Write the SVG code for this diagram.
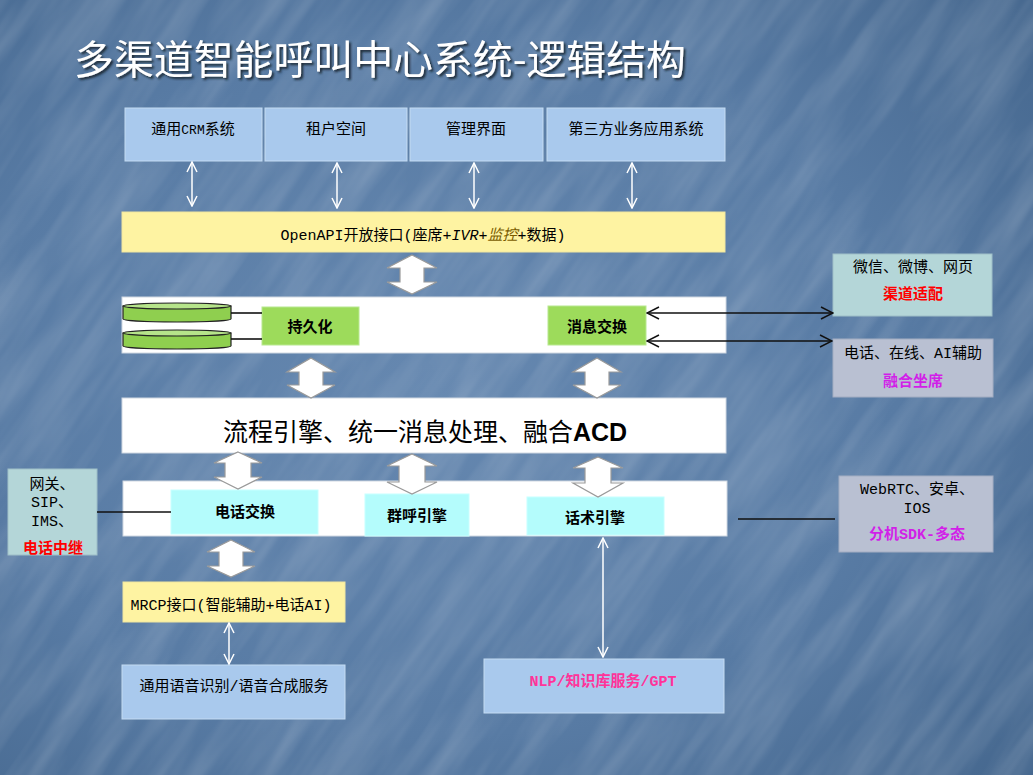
<svg xmlns="http://www.w3.org/2000/svg" width="1033" height="775" viewBox="0 0 1033 775">
<defs>
<radialGradient id="bg" cx="0.42" cy="0.5" r="0.75">
<stop offset="0" stop-color="#6688b0"/>
<stop offset="0.6" stop-color="#587ba4"/>
<stop offset="1" stop-color="#46688f"/>
</radialGradient>
<filter id="tex" x="0" y="0" width="100%" height="100%">
<feTurbulence type="fractalNoise" baseFrequency="0.006 0.045" numOctaves="3" seed="7" result="n"/>
<feColorMatrix in="n" type="matrix" values="0 0 0 0 1  0 0 0 0 1  0 0 0 0 1  0 0 0 0.28 -0.09"/>
</filter>
<filter id="shadow" x="-5%" y="-20%" width="110%" height="150%">
<feDropShadow dx="2" dy="2" stdDeviation="0.8" flood-color="#15202e" flood-opacity="0.9"/>
</filter>
<marker id="wa" viewBox="0 0 12 12" refX="11" refY="6" markerWidth="12" markerHeight="12" markerUnits="userSpaceOnUse" orient="auto-start-reverse">
<path d="M1,1 L11,6 L1,11" fill="none" stroke="#ffffff" stroke-width="1.5"/>
</marker>
<marker id="ba" viewBox="0 0 14 14" refX="13" refY="7" markerWidth="14" markerHeight="14" markerUnits="userSpaceOnUse" orient="auto-start-reverse">
<path d="M1,1 L13,7 L1,13" fill="none" stroke="#111111" stroke-width="1.5"/>
</marker>
<style>
text{font-family:"Liberation Sans","Noto Sans CJK SC",sans-serif;font-size:15px;fill:#000;text-anchor:middle}
.m{font-family:"Liberation Mono","Noto Sans CJK SC",monospace}
.b{font-weight:bold}
.blue{fill:#a9c9ed;stroke:#c4dbf2;stroke-width:1}
.yel{fill:#fef3a2;stroke:#f0e6a0;stroke-width:1}
.wht{fill:#ffffff;stroke:#d0d8e2;stroke-width:1}
.grn{fill:#9ddb5b;stroke:#b8e890;stroke-width:1}
.cyn{fill:#b4fcfc;stroke:#c8ffff;stroke-width:1}
.teal{fill:#b4d6d8;stroke:#9fbfc8;stroke-width:1}
.gry{fill:#b9c0d2;stroke:#a3adc2;stroke-width:1}
.blk{fill:#ffffff;stroke:#9a9a9a;stroke-width:1.2}
.wl{stroke:#ffffff;stroke-width:1.5;fill:none;marker-start:url(#wa);marker-end:url(#wa)}
.bl{stroke:#111111;stroke-width:1.6;fill:none}
.red{fill:#ff0000}
.mag{fill:#d11fe8}
.cyl{fill:#8fcf4f;stroke:#222;stroke-width:1.2}
.cylt{fill:#b6e48a;stroke:#222;stroke-width:1.2}
</style>
</defs>

<g id="background">
<rect x="0" y="0" width="1033" height="775" fill="url(#bg)"/>
<rect x="-400" y="-400" width="1833" height="1575" transform="rotate(-55 516 387)" filter="url(#tex)"/>
</g>

<g id="title">
<text x="380" y="74" filter="url(#shadow)" style="font-family:'Noto Sans CJK SC',sans-serif;font-size:40px;fill:#ffffff" textLength="612" lengthAdjust="spacingAndGlyphs">多渠道智能呼叫中心系统-逻辑结构</text>
</g>

<g id="crm">
<rect class="blue" x="125" y="108" width="137" height="53"/>
<text x="193" y="134">通用<tspan class="m" font-size="13">CRM</tspan>系统</text>
</g>
<g id="tenant">
<rect class="blue" x="265" y="108" width="142" height="53"/>
<text x="336" y="134">租户空间</text>
</g>
<g id="admin">
<rect class="blue" x="410" y="108" width="133" height="53"/>
<text x="476" y="134">管理界面</text>
</g>
<g id="thirdparty">
<rect class="blue" x="547" y="108" width="178" height="53"/>
<text x="636" y="134">第三方业务应用系统</text>
</g>

<g id="openapi">
<rect class="yel" x="122" y="212" width="603" height="40"/>
<text x="423" y="240"><tspan class="m">OpenAPI</tspan>开放接口<tspan class="m">(</tspan>座席<tspan class="m">+</tspan><tspan class="m" font-style="italic">IVR+</tspan><tspan font-style="italic" fill="#7a5c00">监控</tspan><tspan class="m">+</tspan>数据<tspan class="m">)</tspan></text>
</g>

<g id="layer1">
<rect class="wht" x="122" y="297" width="604" height="56"/>
<path class="cyl" d="M123,306 L123,319 A54,3 0 0 0 231,319 L231,306 Z"/>
<ellipse class="cylt" cx="177" cy="306" rx="54" ry="3"/>
<path class="cyl" d="M123,333 L123,346 A54,3 0 0 0 231,346 L231,333 Z"/>
<ellipse class="cylt" cx="177" cy="333" rx="54" ry="3"/>
</g>

<g id="persist">
<rect class="grn" x="262" y="307" width="97" height="38"/>
<text class="b" x="310" y="332">持久化</text>
</g>

<g id="msgswitch">
<rect class="grn" x="548" y="306" width="98" height="39"/>
<text class="b" x="597" y="332">消息交换</text>
</g>

<g id="channel">
<rect class="teal" x="833" y="254" width="159" height="62"/>
<text x="913" y="272">微信、微博、网页</text>
<text class="b red" x="913" y="299">渠道适配</text>
</g>

<g id="agent">
<rect class="gry" x="833" y="339" width="160" height="58"/>
<text x="913" y="358">电话、在线、<tspan class="m">AI</tspan>辅助</text>
<text class="b mag" x="913" y="386">融合坐席</text>
</g>

<g id="acd">
<rect class="wht" x="122" y="398" width="604" height="55"/>
<text x="425" y="441" style="font-family:'Noto Sans CJK SC',sans-serif;font-size:25px">流程引擎、统一消息处理、融合<tspan style="font-family:'Liberation Sans',sans-serif;font-weight:bold">ACD</tspan></text>
</g>

<g id="layer2">
<rect class="wht" x="123" y="481" width="604" height="55"/>
</g>

<g id="phoneswitch">
<rect class="cyn" x="171" y="490" width="147" height="44"/>
<text class="b" x="245" y="517">电话交换</text>
</g>
<g id="groupcall">
<rect class="cyn" x="365" y="494" width="104" height="42"/>
<text class="b" x="417" y="521">群呼引擎</text>
</g>
<g id="script">
<rect class="cyn" x="527" y="497" width="137" height="38"/>
<text class="b" x="595" y="523">话术引擎</text>
</g>

<g id="gateway">
<rect class="teal" x="8" y="469" width="89" height="86"/>
<text x="52" y="489">网关、</text>
<text x="52" y="507"><tspan class="m">SIP</tspan>、</text>
<text x="52" y="526"><tspan class="m">IMS</tspan>、</text>
<text class="b red" x="53" y="553">电话中继</text>
</g>

<g id="sdk">
<rect class="gry" x="839" y="476" width="154" height="76"/>
<text x="917" y="494"><tspan class="m">WebRTC</tspan>、安卓、</text>
<text class="m" x="917" y="513">IOS</text>
<text class="b mag" x="917" y="539">分机<tspan class="m">SDK-</tspan>多态</text>
</g>

<g id="mrcp">
<rect class="yel" x="123" y="582" width="222" height="40"/>
<text x="231" y="610"><tspan class="m">MRCP</tspan>接口<tspan class="m">(</tspan>智能辅助<tspan class="m">+</tspan>电话<tspan class="m">AI)</tspan></text>
</g>

<g id="asr">
<rect class="blue" x="122" y="665" width="223" height="54"/>
<text x="234" y="691">通用语音识别<tspan class="m">/</tspan>语音合成服务</text>
</g>

<g id="nlp">
<rect class="blue" x="484" y="659" width="240" height="54"/>
<text class="b" x="603" y="686" style="fill:#ff3399"><tspan class="m">NLP/</tspan>知识库服务<tspan class="m">/GPT</tspan></text>
</g>

<g id="connectors">
<line class="wl" x1="192" y1="162" x2="192" y2="206"/>
<line class="wl" x1="337" y1="163" x2="337" y2="208"/>
<line class="wl" x1="474" y1="163" x2="474" y2="208"/>
<line class="wl" x1="632" y1="163" x2="632" y2="208"/>
<line class="wl" x1="229" y1="623" x2="229" y2="664"/>
<line class="wl" x1="603" y1="538" x2="603" y2="657"/>
<line class="bl" x1="231" y1="313" x2="262" y2="313"/>
<line class="bl" x1="231" y1="339" x2="262" y2="339"/>
<line class="bl" x1="647" y1="313" x2="833" y2="313" marker-start="url(#ba)" marker-end="url(#ba)"/>
<line class="bl" x1="647" y1="341" x2="832" y2="341" marker-start="url(#ba)" marker-end="url(#ba)"/>
<line class="bl" x1="738" y1="519" x2="835" y2="519"/>
<line class="bl" x1="97" y1="512" x2="171" y2="512"/>
<path class="blk" d="M412,255 L437,268 L424,268 L424,282 L437,282 L412,294 L387,282 L400,282 L400,268 L387,268 Z"/>
<path class="blk" d="M311,358 L335,372 L323,372 L323,385 L335,385 L311,398 L287,385 L299,385 L299,372 L287,372 Z"/>
<path class="blk" d="M597,358 L621,372 L609,372 L609,385 L621,385 L597,398 L573,385 L585,385 L585,372 L573,372 Z"/>
<path class="blk" d="M238,452 L262,463 L251,463 L251,477 L262,477 L238,489 L214,477 L225,477 L225,463 L214,463 Z"/>
<path class="blk" d="M412,454 L437,466 L425,466 L425,482 L437,482 L412,494 L387,482 L399,482 L399,466 L387,466 Z"/>
<path class="blk" d="M598,457 L623,468 L611,468 L611,483 L623,483 L598,497 L573,483 L585,483 L585,468 L573,468 Z"/>
<path class="blk" d="M231,540 L255,552 L243,552 L243,566 L255,566 L231,577 L207,566 L219,566 L219,552 L207,552 Z"/>
</g>
</svg>
